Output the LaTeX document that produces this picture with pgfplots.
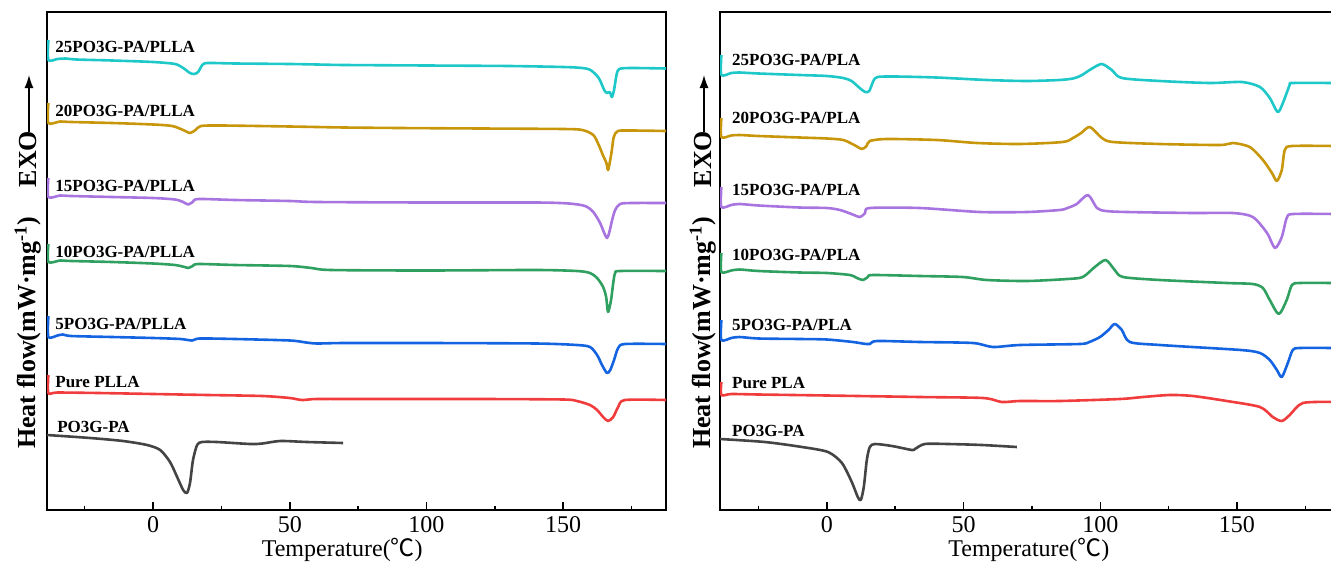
\documentclass[border=0pt]{standalone}
\usepackage{fontspec}
\setmainfont{Liberation Serif}
\newfontfamily\cjk{Noto Sans CJK SC}
\usepackage{pgfplots}
\pgfplotsset{compat=1.18}
\usetikzlibrary{arrows.meta}

\definecolor{cCyan}{RGB}{30,200,200}
\definecolor{cGold}{RGB}{200,150,10}
\definecolor{cPurple}{RGB}{168,116,224}
\definecolor{cGreen}{RGB}{48,160,96}
\definecolor{cBlue}{RGB}{20,100,225}
\definecolor{cRed}{RGB}{240,60,60}
\definecolor{cGray}{RGB}{68,68,68}

\pgfplotsset{dsc/.style={
  scale only axis, height=498pt, ymin=-510, ymax=-12,
  ytick=\empty, xtick={0,50,100,150}, minor xtick={-25,25,75,125,175},
  xtick pos=left, tick align=inside, major tick length=8pt, minor tick length=4pt,
  axis line style={line width=1.6pt},
  every tick/.append style={black, line width=1.5pt},
  xticklabel style={font=\fontsize{24}{24}\selectfont, yshift=-3pt},
  /pgf/number format/assume math mode=true,
  every axis plot/.append style={line width=2.6pt, line join=round, no markers, smooth, tension=0.45},
  xlabel style={font=\fontsize{24}{24}\selectfont},
}}
\tikzset{clab/.style={anchor=west, font=\bfseries\fontsize{17}{17}\selectfont, inner sep=0pt}}

\begin{document}
\begin{tikzpicture}
% ---------------- left panel ----------------
\begin{axis}[dsc, at={(47pt,-510pt)}, anchor=south west, width=619pt,
  xmin=-38.8, xmax=187.6,
  xlabel={Temperature({\cjk ℃})}, xlabel style={at={(axis description cs:0.477,0)}, anchor=north, yshift=-25pt}]
\addplot[cCyan] coordinates {(-38.3,-40) (-38.3,-60) (-35,-59) (-32,-58.5) (-28,-59.5) (-15,-60.5) (0,-62) (8,-64) (11,-68) (13.5,-73) (15,-74) (16.5,-72) (18,-65) (20,-63) (30,-63.5) (50,-64) (60,-64.5) (70,-65) (100,-65.5) (130,-66) (150,-67) (157,-68) (160,-70) (163,-78) (165,-90) (166,-93) (167,-92) (167.8,-97) (168.6,-90) (169.5,-75) (170.5,-69) (175,-68) (187.6,-68.5)};
\addplot[cGold] coordinates {(-38.3,-103) (-38.3,-123) (-34,-121.5) (-30,-122) (-15,-123) (0,-124.5) (7,-126) (11,-130) (13.5,-133) (15.5,-130) (17.5,-126) (25,-125.5) (50,-126.5) (70,-127.5) (90,-128) (120,-128.5) (150,-129) (157,-130) (161,-135) (163,-145) (164.5,-155) (165.8,-163) (166.4,-170) (167.2,-160) (167.8,-150) (168.5,-137) (170,-131) (175,-130.5) (187.6,-131)};
\addplot[cPurple] coordinates {(-38.3,-178) (-38.3,-197) (-34,-195.5) (-30,-196) (-15,-197) (0,-198) (8,-199.5) (11,-202) (12.8,-204.5) (14.5,-202) (16.5,-199) (30,-200) (50,-201) (60,-202) (100,-202.5) (140,-202.5) (152,-203.5) (158,-206) (161,-212) (163.5,-223) (165,-233) (166,-238) (166.8,-233) (167.9,-220) (169,-210) (170.8,-204) (175,-203) (187.6,-203)};
\addplot[cGreen] coordinates {(-38.3,-244) (-38.3,-262) (-34,-260.5) (-30,-261) (-15,-262) (0,-263.5) (8,-265) (11.5,-267) (12.8,-268) (14.5,-266) (16.5,-264) (30,-265) (50,-266) (58,-268) (65,-270) (100,-270.5) (140,-270) (155,-271) (159.8,-273) (162.4,-278) (164.6,-287) (165.7,-297) (166.4,-312) (167.5,-300) (168.3,-283) (169,-273) (170.8,-271) (187.6,-271)};
\addplot[cBlue] coordinates {(-38.3,-316) (-38.3,-337) (-35,-335.5) (-33,-334.5) (-30,-336) (-15,-337) (0,-338) (10,-339) (14.3,-340.5) (17,-338.5) (30,-339) (50,-340.5) (56,-342.5) (60,-343.5) (70,-343) (100,-343) (140,-343.5) (155,-345) (159.8,-347) (162.4,-355) (164.2,-365) (166,-373) (167.2,-370) (168.6,-360) (170.1,-348) (172.6,-344) (187.6,-344)};
\addplot[cRed] coordinates {(-38.3,-375) (-38.3,-393) (-35,-392.5) (-20,-393) (0,-394) (20,-395) (40,-396) (50,-398) (54.5,-400) (60,-399) (80,-399) (120,-399) (150,-399.5) (155,-401) (159.8,-405) (162.4,-410) (164.6,-417) (166.4,-421) (168.3,-417) (170.1,-407) (172.6,-400) (187.6,-400)};
\addplot[cGray] coordinates {(-38.8,-435) (-23,-438) (-11,-441) (-2.2,-445) (2.6,-450) (6.2,-462) (8.8,-477) (11,-490) (12.4,-493) (13.5,-483) (14.6,-460) (16.1,-445) (17.9,-442) (23.4,-442) (35.5,-444) (40,-443.5) (46.5,-441) (56.3,-442) (69.5,-443)};
\node[clab] at (axis cs:-35.8,-47) {25PO3G-PA/PLLA};
\node[clab] at (axis cs:-35.8,-111) {20PO3G-PA/PLLA};
\node[clab] at (axis cs:-35.8,-186) {15PO3G-PA/PLLA};
\node[clab] at (axis cs:-35.8,-252) {10PO3G-PA/PLLA};
\node[clab] at (axis cs:-35.8,-324) {5PO3G-PA/PLLA};
\node[clab] at (axis cs:-35.8,-382) {Pure PLLA};
\node[clab] at (axis cs:-35.1,-427) {PO3G-PA};
\end{axis}
% ---------------- right panel ----------------
\begin{axis}[dsc, at={(720pt,-510pt)}, anchor=south west, width=614pt,
  xmin=-39.1, xmax=185.5,
  xlabel={Temperature({\cjk ℃})}, xlabel style={at={(axis description cs:0.503,0)}, anchor=north, yshift=-25pt}]
\addplot[cCyan] coordinates {(-38.6,-55) (-38.6,-75) (-35,-73) (-32,-72.5) (-25,-73.5) (-10,-75) (0,-76) (6,-78) (9,-81) (12,-88) (14,-92) (15.5,-91) (17,-81) (18.5,-77) (25,-76.5) (40,-77.5) (58.5,-80) (73,-81) (85,-80) (90,-78.5) (93,-75.5) (97,-68.5) (100.6,-64) (104.2,-70) (107.9,-78) (121.8,-81) (140,-83) (151.8,-82) (158.4,-87) (162,-98) (164.9,-112) (166.8,-103) (169.3,-85) (170.4,-83) (185.5,-83)};
\addplot[cGold] coordinates {(-38.6,-118) (-38.6,-137) (-35,-135.5) (-32,-135) (-25,-136) (-10,-137.5) (0,-138.5) (6,-140) (10,-145) (12.8,-149) (14.5,-146) (15.7,-141) (21.9,-139) (40.2,-140) (54.9,-143) (70.6,-144) (86.3,-142) (90,-138) (93,-133) (96.2,-127) (100.6,-138) (104.6,-142) (121.8,-144) (143.7,-145) (148.5,-143) (154.7,-147) (159.5,-160) (162.8,-173) (164.6,-181) (166.4,-170) (167.5,-150) (170.1,-146) (185.5,-146)};
\addplot[cPurple] coordinates {(-38.6,-187) (-38.6,-207) (-35,-205) (-32,-204) (-25,-205.5) (-10,-207.5) (0,-208) (4.8,-210) (9,-214) (12.1,-217) (14,-213) (15.7,-208) (34,-208) (56,-212) (73.2,-212) (85.2,-210) (88,-208) (91.4,-204) (95.5,-195) (98.8,-208) (102,-211) (109.7,-212) (133.9,-213) (148.5,-213) (155.8,-217) (161,-233) (163.9,-248) (166.4,-237) (168.2,-218) (170.4,-214) (185.5,-214)};
\addplot[cGreen] coordinates {(-38.6,-253) (-38.6,-272) (-35,-270.5) (-32,-269.5) (-25,-271) (-10,-272.5) (0,-273) (8.4,-275) (11,-278) (13.2,-280) (15,-277) (16.8,-275) (34,-276) (49.7,-277) (58.5,-280) (73.2,-281) (88,-279) (93.6,-277) (98,-267) (102,-260) (105.3,-270) (108.3,-277) (121.8,-280) (146.3,-283) (155.8,-284) (159.5,-288) (162,-300) (165.3,-314) (168.2,-300) (170.1,-285) (173,-283) (185.5,-283)};
\addplot[cBlue] coordinates {(-38.6,-320) (-38.6,-340) (-35,-338) (-32,-337) (-25,-338.5) (-10,-339) (0,-339.5) (9.5,-342) (13,-343.5) (15.7,-344) (18.3,-341) (34,-342) (53.4,-343) (60.7,-347) (70.6,-345) (92.5,-344) (96,-342) (99.9,-337) (103,-330) (105.3,-324) (107.9,-330) (110.8,-342) (121.8,-345) (151.4,-350) (158.4,-353) (162,-360) (164.6,-370) (166.4,-377) (168.6,-363) (170.4,-350) (173,-348) (185.5,-348)};
\addplot[cRed] coordinates {(-38.6,-382) (-38.6,-395) (-35,-394) (-25,-394.5) (0,-395.5) (34,-397) (57.1,-398) (64,-402) (70.6,-401) (85.2,-401) (107.2,-399) (115.6,-397) (125.5,-395) (133.9,-396) (146.3,-401) (158.4,-407) (163.1,-417) (166.4,-421) (169.3,-415) (174.1,-403) (185.5,-402)};
\addplot[cGray] coordinates {(-39.1,-439) (-22.7,-442) (-9.1,-447) (0.4,-452) (5.5,-463) (9.1,-482) (11.3,-497) (12.4,-500) (13.5,-487) (14.6,-460) (15.7,-447) (17.6,-444) (23.8,-446) (31.1,-450) (32.2,-449) (35.8,-444) (44.3,-444) (56.7,-445) (69.5,-447)};
\node[clab] at (axis cs:-34.7,-60) {25PO3G-PA/PLA};
\node[clab] at (axis cs:-34.7,-118) {20PO3G-PA/PLA};
\node[clab] at (axis cs:-34.7,-190) {15PO3G-PA/PLA};
\node[clab] at (axis cs:-34.7,-255) {10PO3G-PA/PLA};
\node[clab] at (axis cs:-34.7,-325) {5PO3G-PA/PLA};
\node[clab] at (axis cs:-34.7,-383) {Pure PLA};
\node[clab] at (axis cs:-34.7,-431) {PO3G-PA};
\end{axis}
% ---------------- y labels ----------------
\foreach \xx in {28,703}{
  \node[rotate=90, font=\bfseries\fontsize{26}{26}\selectfont, inner sep=0pt] at (\xx pt,-333pt) {Heat flow(mW·mg\textsuperscript{-1})};
  \node[rotate=90, font=\bfseries\fontsize{26}{26}\selectfont, inner sep=0pt] at (\xx pt,-159pt) {EXO};
  \draw[-{Latex[length=13pt,width=9pt]}, line width=1.4pt] (\xx pt+1pt,-132pt) -- (\xx pt+1pt,-75pt);
}
\pgfresetboundingbox
\useasboundingbox (0pt,-562pt) rectangle (1331pt,0pt);
\end{tikzpicture}
\end{document}
